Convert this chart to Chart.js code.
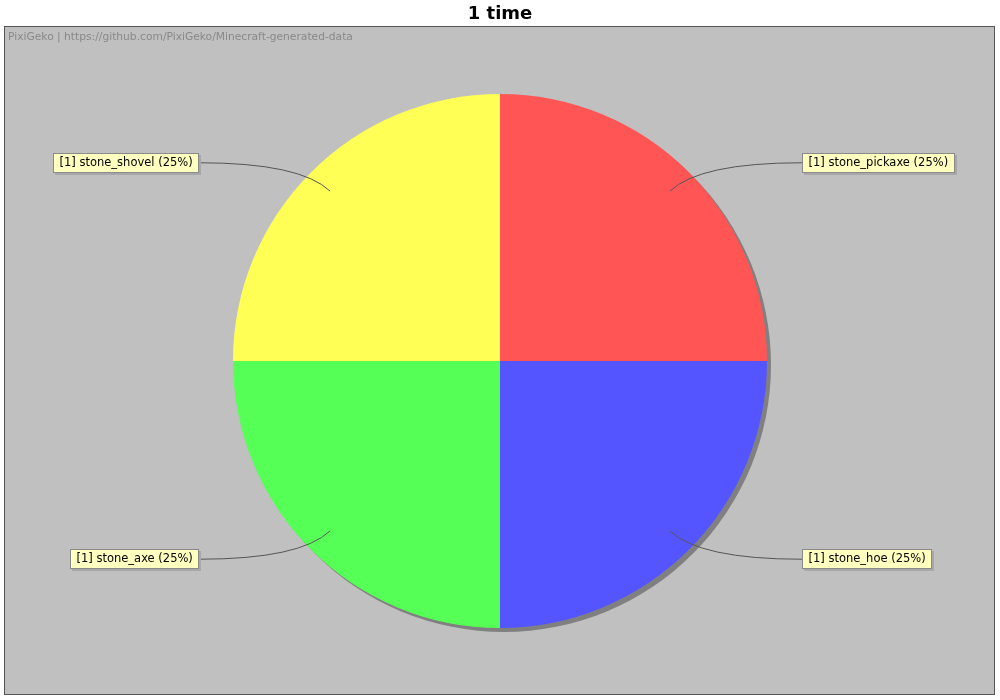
<!DOCTYPE html>
<html>
<head>
<meta charset="utf-8">
<script src="https://cdn.jsdelivr.net/npm/chart.js@4/dist/chart.umd.min.js"></script>
<style>
  html, body { margin: 0; padding: 0; background: #ffffff; }
  #wrap { width: 1000px; height: 700px; }
</style>
</head>
<body>
<div id="wrap"><canvas id="c" width="1000" height="700"></canvas></div>
<script>
const chartTitle = "1 time";
const watermark = "PixiGeko | https://github.com/PixiGeko/Minecraft-generated-data";
const categories = ["stone_pickaxe", "stone_hoe", "stone_axe", "stone_shovel"];
const counts = [1, 1, 1, 1];
const sliceColors = ["#FF5555", "#5555FF", "#55FF55", "#FFFF55"];

const total = counts.reduce((a, b) => a + b, 0);
const labelTexts = categories.map((c, i) =>
  "[" + counts[i] + "] " + c + " (" + Math.round(counts[i] / total * 100) + "%)");

const decor = {
  id: "decor",
  beforeDraw(chart) {
    const ctx = chart.ctx;
    ctx.save();
    ctx.fillStyle = "#ffffff";
    ctx.fillRect(0, 0, chart.width, chart.height);
    ctx.fillStyle = "#C0C0C0";
    ctx.fillRect(4, 26, 991, 669);
    ctx.strokeStyle = "#555555";
    ctx.lineWidth = 1;
    ctx.strokeRect(4.5, 26.5, 990, 668);
    ctx.fillStyle = "#000000";
    ctx.font = "bold 18px 'DejaVu Sans'";
    ctx.textAlign = "center";
    ctx.textBaseline = "middle";
    ctx.fillText(chartTitle, 500, 14);
    ctx.fillStyle = "#888888";
    ctx.font = "10.7px 'DejaVu Sans'";
    ctx.textAlign = "left";
    ctx.fillText(watermark, 8, 37);
    ctx.restore();
  },
  beforeDatasetsDraw(chart) {
    const arc = chart.getDatasetMeta(0).data[0];
    if (!arc) return;
    const ctx = chart.ctx;
    ctx.save();
    ctx.fillStyle = "#808080";
    ctx.beginPath();
    ctx.arc(arc.x + 4, arc.y + 4, arc.outerRadius, 0, Math.PI * 2);
    ctx.fill();
    ctx.restore();
  },
  afterDatasetsDraw(chart) {
    const ctx = chart.ctx;
    const meta = chart.getDatasetMeta(0);
    ctx.save();
    ctx.font = "11.5px 'DejaVu Sans'";
    ctx.textBaseline = "middle";
    meta.data.forEach((a, i) => {
      const mid = (a.startAngle + a.endAngle) / 2;
      const r = a.outerRadius;
      const ax = a.x + Math.cos(mid) * r * 0.9;
      const ay = a.y + Math.sin(mid) * r * 0.9;
      const right = Math.cos(mid) >= 0;
      const ly = a.y + Math.sin(mid) * r * 1.05;
      const edgeX = right ? a.x + r + 35 : a.x - r - 34;
      const tw = ctx.measureText(labelTexts[i]).width;
      const bw = Math.round(tw + 13), bh = 20;
      const bx = right ? edgeX : edgeX - bw;
      const by = Math.round(ly - bh / 2);
      ctx.strokeStyle = "#555555";
      ctx.lineWidth = 1;
      ctx.beginPath();
      ctx.moveTo(edgeX, ly);
      const cx = right ? ax + 30 : ax - 30;
      ctx.quadraticCurveTo(cx, ly, ax, ay);
      ctx.stroke();
      ctx.fillStyle = "#A8A8A8";
      ctx.fillRect(bx + 2, by + 2, bw, bh);
      ctx.fillStyle = "#FFFFC0";
      ctx.fillRect(bx, by, bw, bh);
      ctx.strokeStyle = "#8a8a8a";
      ctx.strokeRect(bx + 0.5, by + 0.5, bw - 1, bh - 1);
      ctx.fillStyle = "#000000";
      ctx.textAlign = "left";
      ctx.fillText(labelTexts[i], bx + 6.5, by + bh / 2 + 0.5);
    });
    ctx.restore();
  }
};

new Chart(document.getElementById("c"), {
  type: "pie",
  data: {
    labels: categories,
    datasets: [{
      data: counts,
      backgroundColor: sliceColors,
      borderWidth: 0,
      hoverOffset: 0
    }]
  },
  options: {
    responsive: false,
    animation: false,
    layout: { padding: { top: 94, bottom: 72, left: 0, right: 0 } },
    plugins: {
      legend: { display: false },
      title: { display: false },
      tooltip: { enabled: false }
    },
    events: []
  },
  plugins: [decor]
});
</script>
</body>
</html>
